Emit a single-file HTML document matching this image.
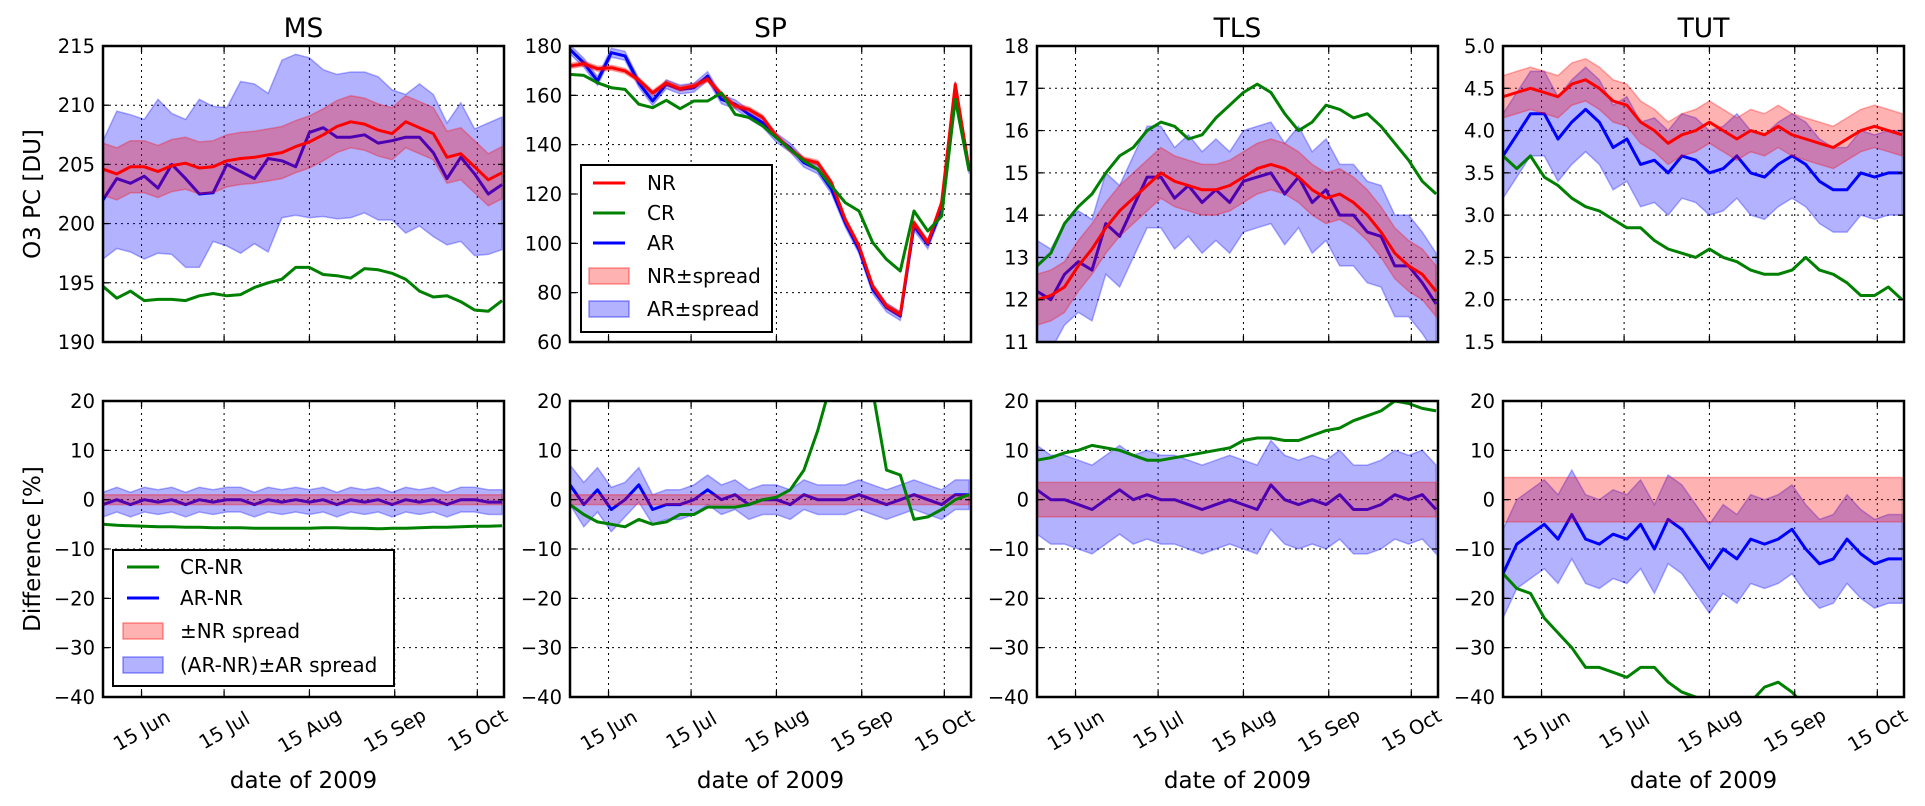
<!DOCTYPE html>
<html><head><meta charset="utf-8"><style>
html,body{margin:0;padding:0;background:#fff;}
svg{display:block;font-family:"DejaVu Sans","Liberation Sans",sans-serif;}
</style></head><body>
<svg id="chart" width="1925" height="806" viewBox="0 0 1925 806" xmlns="http://www.w3.org/2000/svg"></svg>
<script>
const days=[152,157,162,167,172,177,182,187,192,197,202,207,212,217,222,227,232,237,242,247,252,257,262,267,272,277,282,287,292,297];
const xTickDays=[166,196,227,258,288];
const xTickLabels=["15 Jun","15 Jul","15 Aug","15 Sep","15 Oct"];
// MS
const msNR=[204.6,204.2,204.8,204.8,204.4,204.9,205.1,204.7,204.8,205.3,205.5,205.6,205.8,206.0,206.5,206.9,207.5,208.2,208.6,208.4,207.9,207.6,208.6,208.1,207.6,205.6,205.9,204.8,203.7,204.3];
const msNRspread=[2.2,2.2,2.2,2.2,2.2,2.2,2.2,2.2,2.2,2.2,2.2,2.2,2.2,2.2,2.2,2.2,2.2,2.2,2.2,2.2,2.2,2.2,2.2,2.2,2.2,2.2,2.2,2.2,2.2,2.2];
const msAR=[202,203.8,203.4,204.0,203.0,205.0,203.8,202.5,202.6,205.0,204.4,203.8,205.5,205.3,204.8,207.7,208.1,207.3,207.3,207.5,206.8,207.0,207.3,207.3,206.0,203.8,205.6,204.2,202.5,203.3];
const msARup=[207,209.5,209.2,208.8,210.5,209.3,208.8,210.5,209.9,209.8,212,211.8,211,213.8,214.3,214.0,213.0,212.6,212.8,212.8,212.4,211.3,210.9,211.8,210.9,208.5,210.2,208.0,208.5,209];
const msARlo=[197,197.9,197.6,197.0,197.5,197.4,196.3,196.3,198.5,198.1,197.5,198.3,197.6,200.5,200.7,200.5,200.6,200.4,200.5,200.9,200.3,200.3,199.2,199.8,198.9,198.2,198.5,197.3,197.4,197.8];
const msCR=[194.7,193.7,194.3,193.5,193.6,193.6,193.5,193.9,194.1,193.9,194.0,194.6,195.0,195.3,196.3,196.3,195.7,195.6,195.4,196.2,196.1,195.8,195.3,194.3,193.8,193.9,193.4,192.7,192.6,193.5];
// SP
const spNR=[171.9,172.8,170.8,171.2,169.9,166.2,161,165,162.7,163.8,166.5,160.4,155.7,154.3,151,143.5,138,134,132.7,124.6,109.7,98.9,82.7,74.6,71.2,108.4,100.3,116.5,164.5,130];
const spCR=[168.5,168.1,165.1,163.1,162.4,156.4,155,158,154.6,157.7,157.7,161,152.3,151,147.6,142.8,138,133.4,130,123.2,116.5,113.1,100.3,93.5,88.8,113.1,105,111,158.4,129.3];
const spAR=[178.6,173.2,165.8,177.3,176,165.1,157.7,164.5,162.4,163.1,167.8,158.4,156.4,152.3,148.9,142.8,138.8,132.7,130,121.9,108.4,97.6,81.4,74,70.5,107,99.6,113.8,163.8,130];
const spNRspread=[1,1,1,1,1,1,1,1,1,1,1,1,1,1,1,1,1,1,1,1,1,1,1,1,1,1,1,1,1,1];
const spARspread=[1.8,1.8,1.8,1.8,1.8,1.8,1.8,1.8,1.8,1.8,1.8,1.8,1.8,1.8,1.8,1.8,1.8,1.8,1.8,1.8,1.8,1.8,1.8,1.8,1.8,1.8,1.8,1.8,1.8,1.8];
// TLS
const tlsNR=[12.0,12.1,12.3,12.8,13.2,13.7,14.1,14.4,14.7,15.0,14.8,14.7,14.6,14.6,14.7,14.9,15.1,15.2,15.1,14.9,14.6,14.4,14.5,14.3,14.0,13.6,13.1,12.8,12.6,12.2];
const tlsAR=[12.2,12.0,12.6,12.9,12.7,13.8,13.5,14.2,14.9,14.9,14.4,14.7,14.3,14.6,14.3,14.8,14.9,15.0,14.5,14.9,14.3,14.6,14.0,14.0,13.6,13.5,12.8,12.8,12.4,11.9];
const tlsCR=[12.8,13.1,13.8,14.2,14.5,15.0,15.4,15.6,16.0,16.2,16.1,15.8,15.9,16.3,16.6,16.9,17.1,16.9,16.4,16.0,16.2,16.6,16.5,16.3,16.4,16.1,15.7,15.3,14.8,14.5];
const tlsNRspread=[0.6,0.6,0.6,0.6,0.6,0.6,0.6,0.6,0.6,0.6,0.6,0.6,0.6,0.6,0.6,0.6,0.6,0.6,0.6,0.6,0.6,0.6,0.6,0.6,0.6,0.6,0.6,0.6,0.6,0.6];
const tlsARspread=[1.2,1.2,1.2,1.2,1.2,1.2,1.2,1.2,1.2,1.2,1.2,1.2,1.2,1.2,1.2,1.2,1.2,1.2,1.2,1.2,1.2,1.2,1.2,1.2,1.2,1.2,1.2,1.2,1.2,1.2];
// TUT
const tutNR=[4.4,4.45,4.5,4.45,4.4,4.55,4.6,4.5,4.35,4.3,4.1,4.0,3.85,3.95,4.0,4.1,4.0,3.9,4.0,3.95,4.05,3.95,3.9,3.85,3.8,3.9,4.0,4.05,4.0,3.95];
const tutAR=[3.7,3.95,4.2,4.2,3.9,4.1,4.25,4.1,3.8,3.9,3.6,3.65,3.5,3.7,3.65,3.5,3.55,3.7,3.5,3.45,3.6,3.7,3.6,3.4,3.3,3.3,3.5,3.45,3.5,3.5];
const tutCR=[3.7,3.55,3.7,3.45,3.35,3.2,3.1,3.05,2.95,2.85,2.85,2.7,2.6,2.55,2.5,2.6,2.5,2.45,2.35,2.3,2.3,2.35,2.5,2.35,2.3,2.2,2.05,2.05,2.15,2.0];
const tutNRspread=[0.25,0.25,0.25,0.25,0.25,0.25,0.25,0.25,0.25,0.25,0.25,0.25,0.25,0.25,0.25,0.25,0.25,0.25,0.25,0.25,0.25,0.25,0.25,0.25,0.25,0.25,0.25,0.25,0.25,0.25];
const tutARspread=[0.5,0.5,0.5,0.5,0.5,0.5,0.5,0.5,0.5,0.5,0.5,0.5,0.5,0.5,0.5,0.5,0.5,0.5,0.5,0.5,0.5,0.5,0.5,0.5,0.5,0.5,0.5,0.5,0.5,0.5];
// Differences
const msDCR=[-5,-5.2,-5.3,-5.4,-5.5,-5.5,-5.6,-5.6,-5.7,-5.7,-5.7,-5.8,-5.8,-5.8,-5.8,-5.8,-5.7,-5.7,-5.8,-5.8,-5.9,-5.8,-5.8,-5.7,-5.6,-5.6,-5.5,-5.4,-5.4,-5.3];
const msDAR=[-1,0,-1,0,-0.5,0,-1,0,-0.5,0,0,-1,0,-0.5,0,-0.5,0,-1,0,-0.5,0,-1,0,-0.5,0,-1,0,0,-0.5,-0.5];
const msDNRsp=[1,1,1,1,1,1,1,1,1,1,1,1,1,1,1,1,1,1,1,1,1,1,1,1,1,1,1,1,1,1];
const msDARsp=[2.5,2.5,2.5,2.5,2.5,2.5,2.5,2.5,2.5,2.5,2.5,2.5,2.5,2.5,2.5,2.5,2.5,2.5,2.5,2.5,2.5,2.5,2.5,2.5,2.5,2.5,2.5,2.5,2.5,2.5];
const spDCR=[-1,-3,-4.5,-5,-5.5,-4,-5,-4.5,-3,-3,-1.5,-1.5,-1.5,-1,0,0.5,2,6,14,24,35,40,22,6,5,-4,-3.5,-2,0,1];
const spDAR=[3,-1,2,-2,0,3,-2,-1,-1,0,2,0,1,-1,0,0,-1,1,0,0,0,1,0,-1,0,1,0,-1,1,1];
const spDNRsp=[1,1,1,1,1,1,1,1,1,1,1,1,1,1,1,1,1,1,1,1,1,1,1,1,1,1,1,1,1,1];
const spDARsp=[4,4.5,4.5,4.5,3.5,3.5,3,3,3,3,3,3,3,3,3,3,3,3,3,3,3,3,3,3,3,3,3,3,3,3];
const tlsDCR=[8,8.5,9.5,10,11,10.5,10,9,8,8,8.5,9,9.5,10,10.5,12,12.5,12.5,12,12,13,14,14.5,16,17,18,20,19.5,18.5,18];
const tlsDAR=[2,0,0,-1,-2,0,2,0,1,0,0,-1,-2,-1,0,-1,-2,3,0,-1,0,-1,1,-2,-2,-1,1,0,1,-2];
const tlsDNRsp=[3.5,3.5,3.5,3.5,3.5,3.5,3.5,3.5,3.5,3.5,3.5,3.5,3.5,3.5,3.5,3.5,3.5,3.5,3.5,3.5,3.5,3.5,3.5,3.5,3.5,3.5,3.5,3.5,3.5,3.5];
const tlsDARsp=[9,9,9,9,9,9,9,9,9,9,9,9,9,9,9,9,9,9,9,9,9,9,9,9,9,9,9,9,9,9];
const tutDCR=[-15,-18,-19,-24,-27,-30,-34,-34,-35,-36,-34,-34,-37,-39,-40,-41,-41,-40.5,-41,-38,-37,-39,-42,-44,-45,-46,-46,-46,-46,-46];
const tutDAR=[-15,-9,-7,-5,-8,-3,-8,-9,-7,-8,-5,-10,-4,-6,-10,-14,-10,-12,-8,-9,-8,-6,-10,-13,-12,-8,-11,-13,-12,-12];
const tutDNRsp=[4.5,4.5,4.5,4.5,4.5,4.5,4.5,4.5,4.5,4.5,4.5,4.5,4.5,4.5,4.5,4.5,4.5,4.5,4.5,4.5,4.5,4.5,4.5,4.5,4.5,4.5,4.5,4.5,4.5,4.5];
const tutDARsp=[9,9,9,9,9,9,9,9,9,9,9,9,9,9,9,9,9,9,9,9,9,9,9,9,9,9,9,9,9,9];

const NS="http://www.w3.org/2000/svg";
const svg=document.getElementById('chart');
const DMIN=152, DMAX=297.7, PW=401, PH=296;
function mk(tag,attrs,parent){const e=document.createElementNS(NS,tag);for(const k in attrs)e.setAttribute(k,attrs[k]);(parent||svg).appendChild(e);return e;}
let clipId=0;
function panel(name,x,y,ymin,ymax,yticks,ylabels,title,showX){
  const P={x,y,ymin,ymax};
  P.sx=d=>x+(d-DMIN)/(DMAX-DMIN)*PW;
  P.sy=v=>y+PH-(v-ymin)/(ymax-ymin)*PH;
  const g=mk('g',{});
  
  
  const cid='clip'+(clipId++);
  const cp=mk('clipPath',{id:cid},g);
  mk('rect',{x:x,y:y,width:PW,height:PH},cp);
  // grid
  xTickDays.forEach(d=>{const gl=mk('line',{x1:P.sx(d),x2:P.sx(d),y1:y,y2:y+PH,stroke:'#000','stroke-width':1,'stroke-dasharray':'2,4'},g);
    
    });
  yticks.forEach(v=>{const gl=mk('line',{x1:x,x2:x+PW,y1:P.sy(v),y2:P.sy(v),stroke:'#000','stroke-width':1,'stroke-dasharray':'2,4'},g);
    
    });
  P.plot=mk('g',{'clip-path':'url(#'+cid+')'},g);
  P.g=g;P.name=name;P.yticks=yticks;P.ylabels=ylabels;P.title=title;P.showX=showX;
  return P;
}
function finish(P){
  const g=P.g,x=P.x,y=P.y;
  yticks:
  P.yticks.forEach((v,i)=>{const yy=P.sy(v);
    mk('line',{x1:x,x2:x+6,y1:yy,y2:yy,stroke:'#000','stroke-width':1.3},g);
    mk('line',{x1:x+PW-6,x2:x+PW,y1:yy,y2:yy,stroke:'#000','stroke-width':1.3},g);
    const t=mk('text',{x:x-8,y:yy+7,'text-anchor':'end','font-size':19.5},g);
    t.textContent=P.ylabels[i];
    
    });
  xTickDays.forEach((d,i)=>{const xx=P.sx(d);
    mk('line',{x1:xx,x2:xx,y1:y+PH-6,y2:y+PH,stroke:'#000','stroke-width':1.3},g);
    mk('line',{x1:xx,x2:xx,y1:y,y2:y+6,stroke:'#000','stroke-width':1.3},g);
    if(P.showX){const cy=y+PH+33;
      const t=mk('text',{x:xx,y:cy+7,'text-anchor':'middle','font-size':19.5,transform:'rotate(-30 '+xx+' '+cy+')'},g);
      t.textContent=xTickLabels[i];
      
      }});
  const fr=mk('rect',{x:x,y:y,width:PW,height:PH,fill:'none',stroke:'#000','stroke-width':2.5},g);
  
  
  if(P.title){const t=mk('text',{x:x+PW/2,y:37,'text-anchor':'middle','font-size':26.5},g);
    t.textContent=P.title;
    
    }
  if(P.showX){const t=mk('text',{x:x+PW/2,y:788,'text-anchor':'middle','font-size':23},g);
    t.textContent='date of 2009';
    
    }
}
function line(P,vals,color,name){
  const pts=days.map((d,i)=>P.sx(d).toFixed(1)+','+P.sy(vals[i]).toFixed(1)).join(' ');
  const l=mk('polyline',{points:pts,fill:'none',stroke:color,'stroke-width':3,'stroke-linejoin':'round'},P.plot);
  
  
}
function band(P,up,lo,color,name){
  const a=days.map((d,i)=>P.sx(d).toFixed(1)+','+P.sy(up[i]).toFixed(1));
  const b=days.map((d,i)=>P.sx(d).toFixed(1)+','+P.sy(lo[i]).toFixed(1)).reverse();
  const p=mk('polygon',{points:a.concat(b).join(' '),fill:color,'fill-opacity':0.3,stroke:color,'stroke-opacity':0.3,'stroke-width':1.5},P.plot);
  
  
}
const add=(c,s)=>c.map((v,i)=>v+s[i]);
const sub=(c,s)=>c.map((v,i)=>v-s[i]);
const zeros=days.map(()=>0);
const LX=[103,570,1037,1503];
const dTicks=[-40,-30,-20,-10,0,10,20];
const dLabels=['\u221240','\u221230','\u221220','\u221210','0','10','20'];
function topPanel(i,name,title,ymin,ymax,ticks,labels,NR,NRsp,ARup,ARlo,AR,CR){
  const P=panel(name,LX[i],46,ymin,ymax,ticks,labels,title,false);
  band(P,ARup,ARlo,'#0000ff','ar-spread-band');
  line(P,AR,'#0000ff','ar-line');
  band(P,add(NR,NRsp),sub(NR,NRsp),'#ff0000','nr-spread-band');
  line(P,NR,'#ff0000','nr-line');
  line(P,CR,'#008000','cr-line');
  finish(P);
}
function botPanel(i,name,DCR,DAR,NRsp,ARsp){
  const P=panel(name,LX[i],401,-40,20,dTicks,dLabels,null,true);
  band(P,add(DAR,ARsp),sub(DAR,ARsp),'#0000ff','ar-nr-spread-band');
  line(P,DAR,'#0000ff','ar-nr-line');
  band(P,add(zeros,NRsp),sub(zeros,NRsp),'#ff0000','nr-spread-band');
  line(P,DCR,'#008000','cr-nr-line');
  finish(P);
}
topPanel(0,'ms-top','MS',190,215,[190,195,200,205,210,215],['190','195','200','205','210','215'],msNR,msNRspread,msARup,msARlo,msAR,msCR);
topPanel(1,'sp-top','SP',60,180,[60,80,100,120,140,160,180],['60','80','100','120','140','160','180'],spNR,spNRspread,add(spAR,spARspread),sub(spAR,spARspread),spAR,spCR);
topPanel(2,'tls-top','TLS',11,18,[11,12,13,14,15,16,17,18],['11','12','13','14','15','16','17','18'],tlsNR,tlsNRspread,add(tlsAR,tlsARspread),sub(tlsAR,tlsARspread),tlsAR,tlsCR);
topPanel(3,'tut-top','TUT',1.5,5.0,[1.5,2,2.5,3,3.5,4,4.5,5],['1.5','2.0','2.5','3.0','3.5','4.0','4.5','5.0'],tutNR,tutNRspread,add(tutAR,tutARspread),sub(tutAR,tutARspread),tutAR,tutCR);
botPanel(0,'ms-diff',msDCR,msDAR,msDNRsp,msDARsp);
botPanel(1,'sp-diff',spDCR,spDAR,spDNRsp,spDARsp);
botPanel(2,'tls-diff',tlsDCR,tlsDAR,tlsDNRsp,tlsDARsp);
botPanel(3,'tut-diff',tutDCR,tutDAR,tutDNRsp,tutDARsp);

// y axis titles
let t=mk('text',{x:0,y:0,'text-anchor':'middle','font-size':23,transform:'translate(40,194) rotate(-90)'});
t.textContent='O3 PC [DU]';


t=mk('text',{x:0,y:0,'text-anchor':'middle','font-size':23,transform:'translate(40,549) rotate(-90)'});
t.textContent='Difference [%]';



// legends
function legend(name,x,y,w,h,items,lx,tx){
  const g=mk('g',{});
  
  
  mk('rect',{x:x,y:y,width:w,height:h,fill:'#fff',stroke:'#000','stroke-width':2},g);
  items.forEach(it=>{
    const e=mk('g',{},g);
    
    
    if(it.type==='line') mk('line',{x1:lx,x2:lx+32,y1:it.y,y2:it.y,stroke:it.c,'stroke-width':3},e);
    else mk('rect',{x:lx-4,y:it.y-8,width:40,height:16,fill:it.c,'fill-opacity':0.3,stroke:it.c,'stroke-opacity':0.4,'stroke-width':1.5},e);
    const tt=mk('text',{x:tx,y:it.y+7,'font-size':20},e);
    tt.textContent=it.t;
  });
}
legend('top-legend',581,165,191,167,[
 {type:'line',c:'#ff0000',y:183,t:'NR'},
 {type:'line',c:'#008000',y:213,t:'CR'},
 {type:'line',c:'#0000ff',y:243,t:'AR'},
 {type:'band',c:'#ff0000',y:276,t:'NR\u00b1spread'},
 {type:'band',c:'#0000ff',y:309,t:'AR\u00b1spread'}],593,647);
legend('bottom-legend',113,550,281,136,[
 {type:'line',c:'#008000',y:567,t:'CR-NR'},
 {type:'line',c:'#0000ff',y:598,t:'AR-NR'},
 {type:'band',c:'#ff0000',y:631,t:'\u00b1NR spread'},
 {type:'band',c:'#0000ff',y:665,t:'(AR-NR)\u00b1AR spread'}],127,180);
</script>
</body></html>
